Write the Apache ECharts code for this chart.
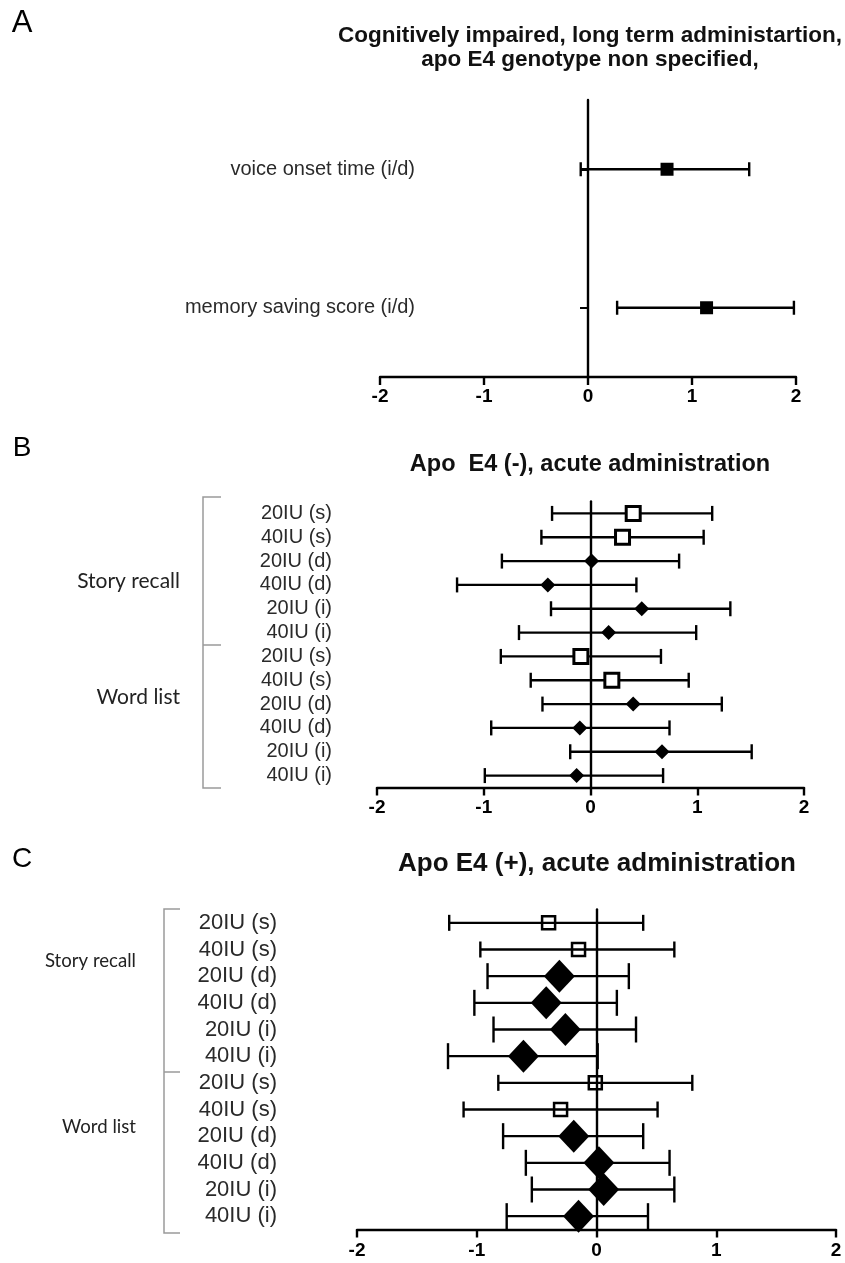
<!DOCTYPE html>
<html><head><meta charset="utf-8">
<script src="https://cdn.jsdelivr.net/npm/echarts@6/dist/echarts.min.js"></script>
<style>html,body{margin:0;padding:0;background:#fff}#c{width:845px;height:1263px}</style>
</head><body><div id="c"></div>
<script>
// ---------- DATA ----------
const labelsA = ['voice onset time (i/d)', 'memory saving score (i/d)'];
const meanA = [0.76, 1.14];
const lowA  = [-0.07, 0.28];
const highA = [1.55, 1.98];

const labelsB = ['20IU (s)','40IU (s)','20IU (d)','40IU (d)','20IU (i)','40IU (i)',
                 '20IU (s)','40IU (s)','20IU (d)','40IU (d)','20IU (i)','40IU (i)'];
const meanB = [0.40, 0.30, 0.01, -0.40, 0.48, 0.17, -0.09, 0.20, 0.40, -0.10, 0.67, -0.13];
const lowB  = [-0.36, -0.46, -0.83, -1.25, -0.37, -0.67, -0.84, -0.56, -0.45, -0.93, -0.19, -0.99];
const highB = [1.14, 1.06, 0.83, 0.43, 1.31, 0.99, 0.66, 0.92, 1.23, 0.74, 1.51, 0.68];

const labelsC = labelsB.slice();
const meanC = [-0.40, -0.15, -0.31, -0.42, -0.26, -0.61, -0.01, -0.30, -0.19, 0.02, 0.06, -0.15];
const lowC  = [-1.23, -0.97, -0.91, -1.02, -0.86, -1.24, -0.82, -1.11, -0.78, -0.59, -0.54, -0.75];
const highC = [0.39, 0.65, 0.27, 0.17, 0.33, 0.01, 0.80, 0.51, 0.39, 0.61, 0.65, 0.43];

const xTicks = [-2, -1, 0, 1, 2];
const groupLabels = ['Story recall', 'Word list'];

// ---------- CHART ----------
const FONT = 'Liberation Sans, Arial, sans-serif';
const chart = echarts.init(document.getElementById('c'));

function errSeries(gi, lows, highs, capFn) {
  return {
    type: 'custom', xAxisIndex: gi, yAxisIndex: gi, z: 2, clip: false,
    data: lows.map((l, i) => [l, highs[i], i]),
    encode: { x: [0, 1], y: 2 },
    renderItem: (params, api) => {
      const i = api.value(2);
      const lo = api.coord([api.value(0), i]);
      const hi = api.coord([api.value(1), i]);
      const h = capFn(i);
      const st = { stroke: '#000', lineWidth: 2.4 };
      return { type: 'group', children: [
        { type: 'line', shape: { x1: lo[0], y1: lo[1], x2: hi[0], y2: hi[1] }, style: st },
        { type: 'line', shape: { x1: lo[0], y1: lo[1] - h, x2: lo[0], y2: lo[1] + h }, style: st },
        { type: 'line', shape: { x1: hi[0], y1: hi[1] - h, x2: hi[0], y2: hi[1] + h }, style: st }
      ]};
    }
  };
}

function markerSeries(gi, means, labels, sq, dia) {
  return {
    type: 'scatter', xAxisIndex: gi, yAxisIndex: gi, z: 3,
    data: means.map((m, i) => Object.assign({ value: [m, i] }, labels[i].includes('(s)') ? sq : dia))
  };
}

function xAxis(gi, margin) {
  return {
    type: 'value', gridIndex: gi, min: xTicks[0], max: xTicks[xTicks.length - 1], interval: 1,
    axisLine: { show: true, onZero: false, lineStyle: { color: '#000', width: 2.4 } },
    axisTick: { show: true, length: 8, lineStyle: { color: '#000', width: 2.4 } },
    axisLabel: { margin: margin, fontFamily: FONT, fontWeight: 'bold', fontSize: 19, color: '#000' },
    splitLine: { show: false }
  };
}

function yAxis(gi, labels, margin, fs, ticks) {
  return {
    type: 'category', gridIndex: gi, inverse: true, data: labels,
    axisLine: { show: true, onZero: true, lineStyle: { color: '#000', width: 2.4 } },
    axisTick: { show: ticks, alignWithLabel: true, length: 8, lineStyle: { color: '#000', width: 2 } },
    axisLabel: { interval: 0, margin: margin, fontFamily: FONT, fontSize: fs, color: '#2a2a2a' },
    splitLine: { show: false }
  };
}

const txt = (x, y, text, font, align, color) => ({
  type: 'text', x: x, y: y, silent: true,
  style: { text: text, font: font, textAlign: align || 'center', textVerticalAlign: 'middle', fill: color || '#000' }
});
const pl = (pts) => ({ type: 'polyline', silent: true, shape: { points: pts }, style: { stroke: '#9a9a9a', lineWidth: 1.5, fill: null } });

chart.setOption({
  animation: false,
  backgroundColor: '#fff',
  grid: [
    { left: 380, width: 416, top: 100, height: 277, outerBoundsMode: 'none' },
    { left: 377, width: 427, top: 501.5, height: 286, outerBoundsMode: 'none' },
    { left: 357, width: 479, top: 909.5, height: 320, outerBoundsMode: 'none' }
  ],
  xAxis: [xAxis(0, 10), xAxis(1, 11), xAxis(2, 12)],
  yAxis: [yAxis(0, labelsA, -35, 20, true), yAxis(1, labelsB, 45, 20, false), yAxis(2, labelsC, 80, 22, false)],
  series: [
    errSeries(0, lowA, highA, () => 7),
    markerSeries(0, meanA, ['', ''], null,
      { symbol: 'rect', symbolSize: 13, itemStyle: { color: '#000', opacity: 1 } }),
    errSeries(1, lowB, highB, () => 7.5),
    markerSeries(1, meanB, labelsB,
      { symbol: 'rect', symbolSize: 14, itemStyle: { color: '#fff', borderColor: '#000', borderWidth: 3, opacity: 1 } },
      { symbol: 'diamond', symbolSize: [15, 15], itemStyle: { color: '#000', opacity: 1 } }),
    errSeries(2, lowC, highC, (i) => labelsC[i].includes('(s)') ? 8 : 13),
    markerSeries(2, meanC, labelsC,
      { symbol: 'rect', symbolSize: 13, itemStyle: { color: 'rgba(0,0,0,0)', borderColor: '#000', borderWidth: 2.5, opacity: 1 } },
      { symbol: 'diamond', symbolSize: [31, 33], itemStyle: { color: '#000', opacity: 1 } })
  ],
  graphic: [
    txt(22, 23, 'A', '31px ' + FONT),
    txt(22, 448, 'B', '28px ' + FONT),
    txt(22, 859, 'C', '28px ' + FONT),
    txt(590, 36, 'Cognitively impaired, long term administartion,', 'bold 22.5px ' + FONT, 'center', '#111'),
    txt(590, 60, 'apo E4 genotype non specified,', 'bold 22.5px ' + FONT, 'center', '#111'),
    txt(590, 465, 'Apo  E4 (-), acute administration', 'bold 23.5px ' + FONT, 'center', '#111'),
    txt(597, 864, 'Apo E4 (+), acute administration', 'bold 26px ' + FONT, 'center', '#111'),
    txt(180, 581, groupLabels[0], '21px Lato, sans-serif', 'right', '#222'),
    txt(180, 697, groupLabels[1], '21px Lato, sans-serif', 'right', '#222'),
    txt(136, 961, groupLabels[0], '18.6px Lato, sans-serif', 'right', '#222'),
    txt(136, 1127, groupLabels[1], '18.6px Lato, sans-serif', 'right', '#222'),
    pl([[221, 497], [203, 497], [203, 788], [221, 788]]),
    pl([[203, 645], [221, 645]]),
    pl([[180, 909], [164, 909], [164, 1233], [180, 1233]]),
    pl([[164, 1072], [180, 1072]])
  ]
});
</script>
</body></html>
